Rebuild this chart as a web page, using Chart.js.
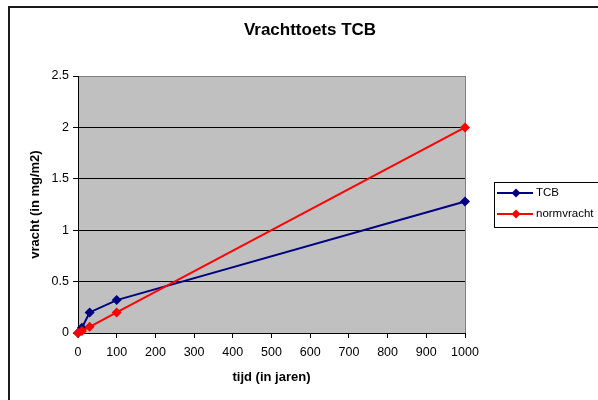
<!DOCTYPE html>
<html>
<head>
<meta charset="utf-8">
<script src="https://cdn.jsdelivr.net/npm/chart.js@4/dist/chart.umd.min.js"></script>
<style>
  html, body { margin: 0; padding: 0; background: #fff; }
  canvas { display: block; }
</style>
</head>
<body>
<canvas id="chart" width="598" height="400"></canvas>
<script>
// Chart data
const years = [0, 10, 30, 100, 1000];
const tcb = [0, 0.05, 0.2, 0.32, 1.28];
const normvracht = [0, 0.02, 0.06, 0.2, 2.0];
const seriesNames = ['TCB', 'normvracht'];
const xTicks = [0, 100, 200, 300, 400, 500, 600, 700, 800, 900, 1000];
const yTicks = [0, 0.5, 1, 1.5, 2, 2.5];
const yTickLabels = ['0', '0.5', '1', '1.5', '2', '2.5'];

const FONT = 'Arial, "Liberation Sans", sans-serif';

const toPoints = (xs, ys) => xs.map((x, i) => ({ x: x, y: ys[i] }));

// Frame, plot background, title and legend (Excel style)
const excelLook = {
    id: 'excelLook',
    beforeDraw(chart) {
        const { ctx, chartArea: a } = chart;
        ctx.save();
        ctx.fillStyle = '#c0c0c0';
        ctx.fillRect(a.left, a.top, a.right - a.left, a.bottom - a.top);
        ctx.strokeStyle = '#808080';
        ctx.lineWidth = 1;
        ctx.strokeRect(a.left + 0.5, a.top + 0.5, a.right - a.left, a.bottom - a.top);

        // outer chart border
        ctx.strokeStyle = '#1a1a1a';
        ctx.lineWidth = 2;
        ctx.beginPath();
        ctx.moveTo(9, 400);
        ctx.lineTo(9, 7);
        ctx.lineTo(598, 7);
        ctx.stroke();

        // title
        ctx.fillStyle = '#000';
        ctx.font = 'bold 17px ' + FONT;
        ctx.textAlign = 'center';
        ctx.textBaseline = 'middle';
        ctx.fillText('Vrachttoets TCB', 310, 30);
        ctx.restore();
    },
    afterDraw(chart) {
        const { ctx } = chart;
        ctx.save();
        ctx.strokeStyle = '#000';
        ctx.lineWidth = 1;
        ctx.strokeRect(494.5, 182.5, 120, 45);
        ctx.font = '11.5px ' + FONT;
        ctx.textAlign = 'left';
        ctx.textBaseline = 'middle';
        chart.data.datasets.forEach((ds, i) => {
            const y = 193 + i * 21;
            ctx.strokeStyle = ds.borderColor;
            ctx.lineWidth = 2;
            ctx.beginPath();
            ctx.moveTo(497, y);
            ctx.lineTo(533, y);
            ctx.stroke();
            ctx.fillStyle = ds.backgroundColor;
            ctx.beginPath();
            ctx.moveTo(516, y - 4.5);
            ctx.lineTo(520.5, y);
            ctx.lineTo(516, y + 4.5);
            ctx.lineTo(511.5, y);
            ctx.closePath();
            ctx.fill();
            ctx.fillStyle = '#000';
            ctx.fillText(ds.label, 536, y);
        });
        ctx.restore();
    }
};

const makeSeries = (label, ys, color, order) => ({
    label: label,
    data: toPoints(years, ys),
    borderColor: color,
    backgroundColor: color,
    borderWidth: 2,
    showLine: true,
    pointStyle: 'rectRot',
    pointRadius: 5,
    pointBorderWidth: 0,
    tension: 0,
    clip: false,
    order: order
});

new Chart(document.getElementById('chart'), {
    type: 'scatter',
    data: {
        datasets: [
            makeSeries(seriesNames[0], tcb, '#000080', 1),
            makeSeries(seriesNames[1], normvracht, '#ff0000', 0)
        ]
    },
    options: {
        responsive: false,
        animation: false,
        events: [],
        layout: { padding: { top: 76, right: 133, left: 0, bottom: 0 } },
        plugins: {
            legend: { display: false },
            title: { display: false },
            tooltip: { enabled: false }
        },
        scales: {
            x: {
                type: 'linear',
                min: 0,
                max: 1000,
                afterFit: s => { s.height = 67; },
                afterBuildTicks: s => { s.ticks = xTicks.map(v => ({ value: v })); },
                border: { color: '#000', width: 1 },
                grid: { drawOnChartArea: false, tickLength: 5, color: '#000' },
                ticks: {
                    color: '#000',
                    font: { family: FONT, size: 12.5 },
                    padding: 7,
                    maxRotation: 0,
                    autoSkip: false,
                    callback: v => String(v)
                },
                title: {
                    display: true,
                    text: 'tijd (in jaren)',
                    color: '#000',
                    font: { family: FONT, size: 13, weight: 'bold' },
                    padding: { top: 0, bottom: 15 }
                }
            },
            y: {
                type: 'linear',
                min: 0,
                max: 2.5,
                afterFit: s => { s.width = 78; },
                afterBuildTicks: s => { s.ticks = yTicks.map(v => ({ value: v })); },
                border: { color: '#000', width: 1 },
                grid: {
                    tickLength: 5,
                    color: c => (c.tick && c.tick.value === 2.5 ? '#808080' : '#000'),
                    tickColor: '#000'
                },
                ticks: {
                    color: '#000',
                    font: { family: FONT, size: 12.5 },
                    padding: 4,
                    autoSkip: false,
                    callback: (v, i) => yTickLabels[i]
                },
                title: {
                    display: true,
                    text: 'vracht (in mg/m2)',
                    color: '#000',
                    font: { family: FONT, size: 13, weight: 'bold' },
                    padding: { top: 28, bottom: 0 }
                }
            }
        }
    },
    plugins: [excelLook]
});
</script>
</body>
</html>
